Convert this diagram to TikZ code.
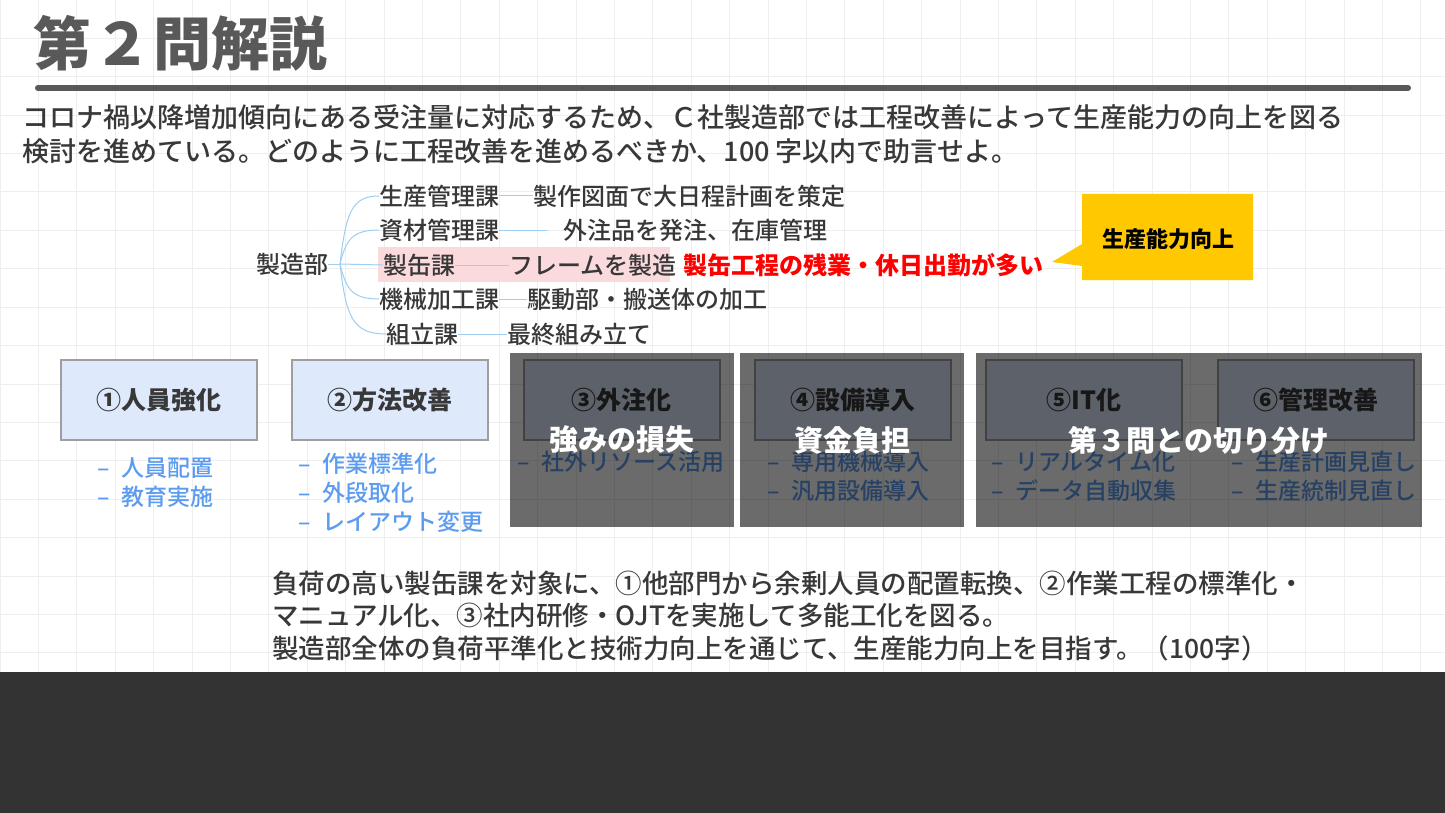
\documentclass[tikz,border=0pt]{standalone}
\usepackage{fontspec}
\setmainfont{Noto Sans CJK JP}
\IfFontExistsTF{Noto Sans CJK JP Medium}
  {\newfontfamily\medfont{Noto Sans CJK JP Medium}}
  {\newcommand\medfont{\normalfont}}
\definecolor{inkgray}{HTML}{595959}
\definecolor{textdark}{HTML}{383838}
\definecolor{gridgray}{HTML}{EEEEEE}
\definecolor{twigblue}{HTML}{9ECFF2}
\definecolor{hilite}{HTML}{FBDADD}
\definecolor{goalyellow}{HTML}{FFC800}
\definecolor{planfill}{HTML}{DEE9FC}
\definecolor{planline}{HTML}{9E9E9E}
\definecolor{bulletblue}{HTML}{5B9BF0}
\definecolor{bandgray}{HTML}{333333}
\begin{document}
\begin{tikzpicture}[x=1pt,y=-1pt,
    gridline/.style={gridgray,line width=1},
    title/.style={inner sep=0,anchor=west,text=inkgray,font=\fontsize{58}{62}\selectfont\bfseries},
    body/.style={inner sep=0,anchor=west,align=left,text=textdark,font=\fontsize{27}{34}\selectfont\medfont},
    tree/.style={inner sep=0,anchor=west,text=textdark,font=\fontsize{24}{28}\selectfont\medfont},
    twig/.style={twigblue,line width=1},
    plan/.style={rectangle,draw=planline,fill=planfill,line width=2,minimum width=196,minimum height=80,text=textdark,font=\fontsize{25}{30}\selectfont\bfseries},
    bullet/.style={inner sep=0,anchor=west,align=left,text=bulletblue,font=\fontsize{23}{29}\selectfont\medfont},
    shade/.style={rectangle,fill=black,fill opacity=0.58,text opacity=1,text=white,minimum height=174,inner sep=0,font=\fontsize{29}{34}\selectfont\bfseries}]
    \useasboundingbox (0,0) rectangle (1445,813);
    \fill[white] (0,0) rectangle (1445,813);

    % Grid paper
    \foreach \i in {0,...,37} \draw[gridline] (\i*38.4,0) -- (\i*38.4,672);
    \foreach \j in {0,...,17} \draw[gridline] (0,\j*38.4) -- (1445,\j*38.4);

    % Heading
    \node[title] (head) at (33,43) {第\hspace{2pt}２\hspace{2pt}問解説};
    \draw[inkgray,line width=6,line cap=round] (38,88) -- (1408,88);
    \node[body] (task) at (22,134) {コロナ禍以降増加傾向にある受注量に対応するため、Ｃ社製造部では工程改善によって生産能力の向上を図る\\検討を進めている。どのように工程改善を進めるべきか、100 字以内で助言せよ。};

    % Organisation tree
    \fill[hilite] (378,247) rectangle (670,282);
    \node[tree] (dept) at (256,264) {製造部};
    \coordinate (hub) at (340,264);
    \node[tree] (sec1) at (379,196) {生産管理課};
    \node[tree] (sec2) at (379,230) {資材管理課};
    \node[tree] (sec3) at (383,265) {製缶課};
    \node[tree] (sec4) at (379,299) {機械加工課};
    \node[tree] (sec5) at (386,334) {組立課};
    \node[tree] (job1) at (533,196) {製作図面で大日程計画を策定};
    \node[tree,inner xsep=16] (job2) at (547,230) {外注品を発注、在庫管理};
    \node[tree] (job3) at (509,265) {フレームを製造};
    \node[tree] (job4) at (527,299) {駆動部・搬送体の加工};
    \node[tree] (job5) at (507,334) {最終組み立て};
    \node[tree,text=red,font=\fontsize{24}{28}\selectfont\bfseries] (issue) at (683,265) {製缶工程の残業・休日出勤が多い};
    \draw[twig] (dept.east) -- (hub);
    \draw[twig] (hub) .. controls (346,212) and (352,196) .. (sec1.west);
    \draw[twig] (hub) .. controls (346,240) and (352,230) .. (sec2.west);
    \draw[twig] (hub) -- (sec3.west);
    \draw[twig] (hub) .. controls (346,289) and (352,299) .. (sec4.west);
    \draw[twig] (hub) .. controls (346,316) and (352,334) .. (sec5.west);
    \draw[twig] (sec1.east) -- (job1.west);
    \draw[twig] (sec2.east) -- (job2.west);
    \draw[twig] (sec3.east) -- (job3.west);
    \draw[twig] (sec4.east) -- (job4.west);
    \draw[twig] (sec5.east) -- (job5.west);

    % Callout
    \fill[goalyellow] (1082,194) -- (1253,194) -- (1253,280) -- (1082,280) -- (1082,266) -- (1052,262) -- (1082,244) -- cycle;
    \node[font=\fontsize{22}{26}\selectfont\bfseries] (goal) at (1168,239) {生産能力向上};

    % Six measures
    \node[plan] (p1) at (159,400) {①人員強化};
    \node[plan] (p2) at (390,400) {②方法改善};
    \node[plan] (p3) at (621.5,400) {③外注化};
    \node[plan] (p4) at (852.5,400) {④設備導入};
    \node[plan] (p5) at (1084,400) {⑤IT化};
    \node[plan] (p6) at (1315.5,400) {⑥管理改善};
    \node[bullet] (b1) at (97,482.5) {–\hspace{0.5em}人員配置\\–\hspace{0.5em}教育実施};
    \node[bullet] (b2) at (298,493) {–\hspace{0.5em}作業標準化\\–\hspace{0.5em}外段取化\\–\hspace{0.5em}レイアウト変更};
    \node[bullet] (b3) at (517,462) {–\hspace{0.5em}社外リソース活用};
    \node[bullet] (b4) at (767,476.5) {–\hspace{0.5em}専用機械導入\\–\hspace{0.5em}汎用設備導入};
    \node[bullet] (b5) at (991,476.5) {–\hspace{0.5em}リアルタイム化\\–\hspace{0.5em}データ自動収集};
    \node[bullet] (b6) at (1231,476.5) {–\hspace{0.5em}生産計画見直し\\–\hspace{0.5em}生産統制見直し};

    % Ruled-out measures
    \node[shade,minimum width=224] (s3) at (622,440) {強みの損失};
    \node[shade,minimum width=224] (s4) at (852,440) {資金負担};
    \node[shade,minimum width=446] (s56) at (1199,440) {第３問との切り分け};

    % Answer
    \node[body,font=\fontsize{26.5}{32.5}\selectfont\medfont] (answer) at (272,616) {負荷の高い製缶課を対象に、①他部門から余剰人員の配置転換、②作業工程の標準化・\\マニュアル化、③社内研修・OJTを実施して多能工化を図る。\\製造部全体の負荷平準化と技術力向上を通じて、生産能力向上を目指す。（100字）};

    % Footer band
    \fill[bandgray] (0,672) rectangle (1445,813);
\end{tikzpicture}
\end{document}
